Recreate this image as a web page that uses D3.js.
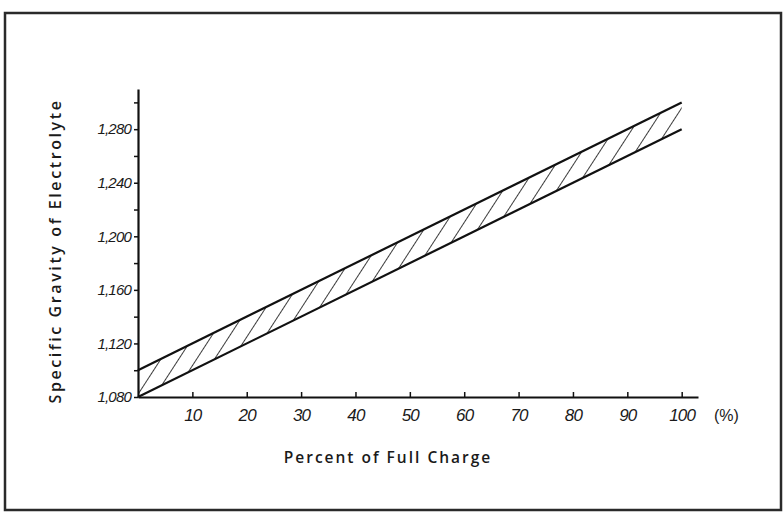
<!DOCTYPE html>
<html>
<head>
<meta charset="utf-8">
<script src="https://cdn.jsdelivr.net/npm/d3@7"></script>
<style>
  body { margin: 0; background: #fff; }
  text { fill: #1a1a1a; }
</style>
</head>
<body>
<div id="chart"></div>
<script>
document.addEventListener("DOMContentLoaded", function() {

    // charge in percent, band edges as specific gravity
    var charge = [0, 100];
    var upperGravity = [1100, 1300];
    var lowerGravity = [1080, 1280];

    var xTicks = [10, 20, 30, 40, 50, 60, 70, 80, 90, 100];
    var yMajorTicks = [1080, 1120, 1160, 1200, 1240, 1280];
    var yMinorTicks = [1100, 1140, 1180, 1220, 1260, 1300];
    var yTickLabels = ["1,080", "1,120", "1,160", "1,200", "1,240", "1,280"];

    var width = 784, height = 514;

    var svg = d3.select("#chart").append("svg")
        .attr("width", width)
        .attr("height", height);

    // scanned page frame
    svg.append("rect")
        .attr("x", 5).attr("y", 13)
        .attr("width", 776).attr("height", 497)
        .attr("fill", "#fff")
        .attr("stroke", "#2a2a2a")
        .attr("stroke-width", 2.5);

    var x = d3.scaleLinear().domain([0, 103]).range([138, 698]);
    var y = d3.scaleLinear().domain([1080, 1310]).range([397, 89]);

    // hatch pattern
    var defs = svg.append("defs");
    var pat = defs.append("pattern")
        .attr("id", "hatch")
        .attr("patternUnits", "userSpaceOnUse")
        .attr("width", 15)
        .attr("height", 15)
        .attr("patternTransform", "rotate(33)");
    pat.append("line")
        .attr("x1", 0).attr("y1", 0)
        .attr("x2", 0).attr("y2", 15)
        .attr("stroke", "#1a1a1a")
        .attr("stroke-width", 1.7);

    var band = charge.map(function(c, i) {
        return { c: c, lo: lowerGravity[i], hi: upperGravity[i] };
    });

    var area = d3.area()
        .x(function(d) { return x(d.c); })
        .y0(function(d) { return y(d.lo); })
        .y1(function(d) { return y(d.hi); });

    svg.append("path")
        .datum(band)
        .attr("d", area)
        .attr("fill", "url(#hatch)");

    var edge = function(key) {
        return d3.line()
            .x(function(d) { return x(d.c); })
            .y(function(d) { return y(d[key]); });
    };

    ["hi", "lo"].forEach(function(k) {
        svg.append("path")
            .datum(band)
            .attr("d", edge(k))
            .attr("fill", "none")
            .attr("stroke", "#111")
            .attr("stroke-width", 2.2);
    });

    // y axis
    var yAxis = svg.append("g")
        .attr("transform", "translate(" + x(0) + ",0)")
        .call(d3.axisLeft(y)
            .tickValues(yMajorTicks)
            .tickSize(4)
            .tickSizeOuter(0)
            .tickFormat(function(d, i) { return yTickLabels[i]; }));
    yAxis.select(".domain").attr("stroke", "#111").attr("stroke-width", 2.2);
    yAxis.selectAll(".tick line").attr("stroke", "#111").attr("stroke-width", 1.5);
    yAxis.selectAll(".tick text")
        .attr("x", -7)
        .style("font-family", "'Liberation Sans', sans-serif")
        .style("font-style", "italic")
        .style("font-size", "15px")
        .style("letter-spacing", "-0.8px")
        .attr("fill", "#1a1a1a");

    svg.append("g")
        .attr("transform", "translate(" + x(0) + ",0)")
        .call(d3.axisLeft(y).tickValues(yMinorTicks).tickSize(4).tickFormat(""))
        .call(function(g) { g.select(".domain").remove(); })
        .selectAll(".tick line").attr("stroke", "#111").attr("stroke-width", 1.5);

    // x axis
    var xAxis = svg.append("g")
        .attr("transform", "translate(0," + y(1080) + ")")
        .call(d3.axisTop(x)
            .tickValues(xTicks)
            .tickSize(5)
            .tickSizeOuter(0));
    xAxis.select(".domain").attr("stroke", "#111").attr("stroke-width", 2.2);
    xAxis.selectAll(".tick line").attr("stroke", "#111").attr("stroke-width", 1.5);
    xAxis.selectAll(".tick text")
        .attr("y", 24)
        .attr("dy", 0)
        .style("font-family", "'Liberation Sans', sans-serif")
        .style("font-style", "italic")
        .style("font-size", "17px")
        .style("letter-spacing", "-0.8px")
        .attr("fill", "#1a1a1a");

    svg.append("text")
        .attr("x", 714)
        .attr("y", y(1080) + 24)
        .style("font-family", "'Liberation Sans', sans-serif")
        .style("font-size", "16px")
        .text("(%)");

    // axis titles
    svg.append("text")
        .attr("x", 388)
        .attr("y", 463)
        .attr("text-anchor", "middle")
        .style("font-family", "'Open Sans', sans-serif")
        .style("font-weight", "600")
        .style("font-size", "15.5px")
        .style("letter-spacing", "2px")
        .text("Percent of Full Charge");

    svg.append("text")
        .attr("transform", "translate(61,251) rotate(-90)")
        .attr("text-anchor", "middle")
        .style("font-family", "'Open Sans', sans-serif")
        .style("font-weight", "600")
        .style("font-size", "16px")
        .style("letter-spacing", "2.6px")
        .text("Specific Gravity of Electrolyte");
});
</script>
</body>
</html>
